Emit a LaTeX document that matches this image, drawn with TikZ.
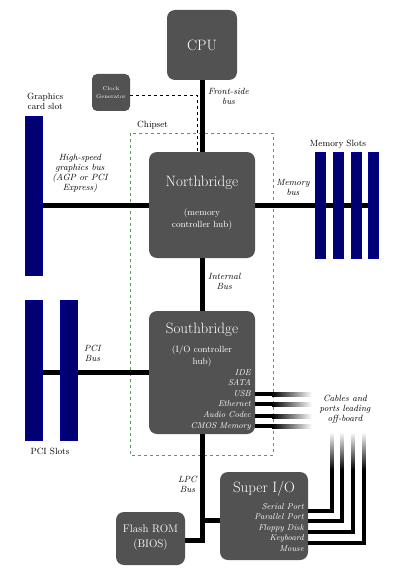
\documentclass[tikz,border=0pt]{standalone}
\begin{document}
\begin{tikzpicture}[x=1pt,y=-1pt,font=\rmfamily,
 box/.style={fill=black!68,rounded corners=8pt,draw=none},
 slot/.style={fill=blue!45!black,draw=blue!60!black,line width=0.4pt},
 bus/.style={line width=5pt,black},
 it/.style={font=\rmfamily\fontsize{9}{10}\selectfont\itshape,align=center,inner sep=0},
 lbl/.style={font=\rmfamily\fontsize{9}{10}\selectfont,align=center,inner sep=0},
 wt/.style={text=white,inner sep=0,align=center},
 wl/.style={text=white,inner sep=0,font=\rmfamily\fontsize{8.5}{10.6}\selectfont\itshape,align=right,anchor=north east},
 fadeh/.style={left color=black,right color=white,draw=none},
 fadev/.style={top color=white,bottom color=black,draw=none}]
\useasboundingbox (0,0) rectangle (402,575);
% chipset
\draw[green!50!black!70,dashed,line width=0.5pt] (130,133) rectangle (273,455);
\node[lbl,anchor=west] at (137,125) {Chipset};
% buses
\draw[bus] (202,80) -- (202,152);
\draw[bus] (42,205) -- (149,205);
\draw[bus] (255,205) -- (372,205);
\draw[bus] (202,258) -- (202,312);
\draw[bus] (25,372) -- (149,372);
\draw[bus] (202,434) -- (202,540) -- (185,540);
\draw[bus] (202,520) -- (220,520);
% boxes
\node[box,minimum width=70,minimum height=70] (cpu) at (202,45) {};
\node[wt,font=\rmfamily\fontsize{15}{16}\selectfont] at (202,45) {CPU};
\node[box,rounded corners=5pt,minimum width=38,minimum height=37] (clk) at (111,92.5) {};
\node[wt,font=\rmfamily\fontsize{5.5}{8}\selectfont] at (111,92.5) {Clock\\Generator};
\draw[dashed,line width=0.6pt] (clk.east|-0,95) -- (197,95) -- (197,152);
\node[box,minimum width=106,minimum height=106] (nb) at (202,205) {};
\node[wt,font=\rmfamily\fontsize{15}{16}\selectfont] at (202,183) {Northbridge};
\node[wt,font=\rmfamily\fontsize{9}{12}\selectfont] at (202,219) {(memory\\controller hub)};
\node[box,minimum width=106,minimum height=123] (sb) at (202,372.5) {};
\node[wt,font=\rmfamily\fontsize{15}{16}\selectfont] at (202,330) {Southbridge};
\node[wt,font=\rmfamily\fontsize{9}{12}\selectfont] at (202,356) {(I/O controller\\hub)};
\node[wl] at (251,369) {IDE\\SATA\\USB\\Ethernet\\Audio Codec\\CMOS Memory};
\node[box,minimum width=69,minimum height=53] (flash) at (150.5,538.5) {};
\node[wt,font=\rmfamily\fontsize{11}{15}\selectfont] at (150.5,538) {Flash ROM\\(BIOS)};
\node[box,minimum width=88,minimum height=88] (sio) at (264,516) {};
\node[wt,font=\rmfamily\fontsize{15}{16}\selectfont] at (264,489) {Super I/O};
\node[wl] at (304,503) {Serial Port\\Parallel Port\\Floppy Disk\\Keyboard\\Mouse};
% cables from southbridge
\foreach \y in {394,404,416,426}{
 \fill[black] (255,\y-2) rectangle (272,\y+2);
 \shade[fadeh] (272,\y-2) rectangle (312,\y+2);}
% cables from super io
\foreach \y/\x in {511/332,521/342,532/353,543/364}{
 \draw[line width=3.5pt] (308,\y) -- (\x,\y) -- (\x,470);
 \shade[fadev] (\x-1.75,432) rectangle (\x+1.75,470);}
\node[it] at (345,409) {Cables and\\ports leading\\off-board};
% slots
\draw[slot] (25,116) rectangle (42,275);
\node[lbl,anchor=west] at (27,101) {Graphics\\card slot};
\foreach \x in {315,333,351,368}{\draw[slot] (\x,152) rectangle (\x+10,258);}
\node[lbl] at (338,144) {Memory Slots};
\draw[slot] (25,300) rectangle (42,440);
\draw[slot] (60,300) rectangle (77,440);
\node[lbl] at (50,451) {PCI Slots};
% bus labels
\node[it,anchor=west] at (208,96) {Front-side\\bus};
\node[it] at (80,173) {High-speed\\graphics bus\\(AGP or PCI\\Express)};
\node[it] at (293,187) {Memory\\bus};
\node[it,anchor=west] at (208,281) {Internal\\Bus};
\node[it,anchor=west] at (84,353) {PCI\\Bus};
\node[it,anchor=east] at (197,484) {LPC\\Bus};
\end{tikzpicture}
\end{document}
